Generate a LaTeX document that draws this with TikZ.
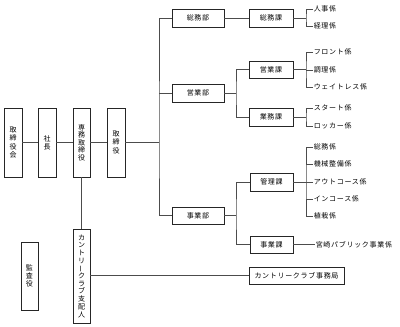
\documentclass[tikz,border=0pt]{standalone}
\usepackage{graphicx}
\usepackage{fontspec}
\setmainfont[LetterSpace=10]{Noto Sans CJK JP}
\newcommand\vbar{\rotatebox[origin=c]{90}{ー}}
\tikzset{
  bx/.style={draw=black!85, line width=0.8pt, fill=white, inner sep=0pt, font=\fontsize{7}{8.3}\selectfont},
  hbx/.style={bx, minimum height=18pt},
  vbx/.style={bx, minimum width=18pt, align=center},
  item/.style={anchor=west, inner sep=0.6pt, font=\fontsize{7}{8.3}\selectfont},
  ln/.style={draw=black!70, line width=0.8pt}
}
\begin{document}
\begin{tikzpicture}[x=1pt,y=-1pt]
\useasboundingbox[fill=white] (0,0) rectangle (400,327);
% vertical boxes
\node[vbx, minimum height=69pt] (tk) at (13,142.5) {取\\締\\役\\会};
\node[vbx, minimum height=69pt] (sc) at (47,142.5) {社\\長};
\node[vbx, minimum width=17pt, minimum height=69pt, font=\fontsize{7}{7.5}\selectfont] (sm) at (81.5,142.5) {専\\務\\取\\締\\役};
\node[vbx, minimum height=69pt] (tr) at (116,142.5) {取\\締\\役};
\node[vbx, minimum width=17pt, minimum height=68pt] (ks) at (29.5,276) {監\\査\\役};
\node[vbx, minimum width=17pt, minimum height=94pt, font=\fontsize{7}{7.7}\selectfont] (cs) at (81.5,276) {カ\\ン\\ト\\リ\\\vbar\\ク\\ラ\\ブ\\支\\配\\人};
% departments
\node[hbx, minimum width=52pt] (somubu) at (198,18) {総務部};
\node[hbx, minimum width=52pt] (eigyobu) at (198,93) {営業部};
\node[hbx, minimum width=52pt, minimum height=17pt] (jigyobu) at (198,215.5) {事業部};
% sections
\node[hbx, minimum width=44pt] (somuka) at (271,18) {総務課};
\node[hbx, minimum width=44pt, minimum height=17pt] (eigyoka) at (271,69.5) {営業課};
\node[hbx, minimum width=44pt] (gyomuka) at (271,117) {業務課};
\node[hbx, minimum width=43pt] (kanrika) at (271.5,182) {管理課};
\node[hbx, minimum width=43pt, minimum height=17pt] (jigyoka) at (271.5,244.5) {事業課};
\node[hbx, minimum width=95pt, minimum height=17pt] (ccj) at (296.5,275.5) {カントリークラブ事務局};
% items
\node[item] (jinji) at (313,9) {人事係};
\node[item] (keiri) at (313,26) {経理係};
\node[item] (front) at (313,52) {フロント係};
\node[item] (chori) at (313,70) {調理係};
\node[item] (waitress) at (313,87) {ウェイトレス係};
\node[item] (start) at (313,108) {スタート係};
\node[item] (locker) at (313,126) {ロッカー係};
\node[item] (k1) at (313,147) {総務係};
\node[item] (k2) at (313,164) {機械整備係};
\node[item] (k3) at (313,182) {アウトコース係};
\node[item] (k4) at (313,199) {インコース係};
\node[item] (k5) at (313,216) {植栽係};
\node[item] (miya) at (315,244.5) {宮崎パブリック事業係};
% junction coordinates
\coordinate (tj) at (159,142.5);
\coordinate (be) at (236,93);
\coordinate (bj) at (236,215.5);
\coordinate (b1) at (306,18);
\coordinate (b2) at (306,69.5);
\coordinate (b3) at (306,117);
\coordinate (b4) at (306,182);
% connectors
\draw[ln] (tk.east) -- (sc.west);
\draw[ln] (sc.east) -- (sm.west);
\draw[ln] (sm.east) -- (tr.west);
\draw[ln] (tr.east) -- (tj);
\draw[ln] (somubu.west) -| (tj) |- (jigyobu.west);
\draw[ln] (eigyobu.west) -- (eigyobu.west -| tj);
\draw[ln] (somubu.east) -- (somuka.west);
\draw[ln] (eigyobu.east) -- (be);
\draw[ln] (eigyoka.west) -| (be) |- (gyomuka.west);
\draw[ln] (jigyobu.east) -- (bj);
\draw[ln] (kanrika.west) -| (bj) |- (jigyoka.west);
\draw[ln] (somuka.east) -- (b1);
\draw[ln] (jinji.west) -| (b1) |- (keiri.west);
\draw[ln] (eigyoka.east) -- (b2);
\draw[ln] (front.west) -| (b2) |- (waitress.west);
\draw[ln] (chori.west) -- (chori.west -| b2);
\draw[ln] (gyomuka.east) -- (b3);
\draw[ln] (start.west) -| (b3) |- (locker.west);
\draw[ln] (kanrika.east) -- (b4);
\draw[ln] (k1.west) -| (b4) |- (k5.west);
\draw[ln] (k2.west) -- (k2.west -| b4);
\draw[ln] (k3.west) -- (k3.west -| b4);
\draw[ln] (k4.west) -- (k4.west -| b4);
\draw[ln] (jigyoka.east) -- (miya.west);
\draw[ln] (sm.south) -- (cs.north);
\draw[ln] (ccj.west) -- (ccj.west -| cs.east);
\end{tikzpicture}
\end{document}
